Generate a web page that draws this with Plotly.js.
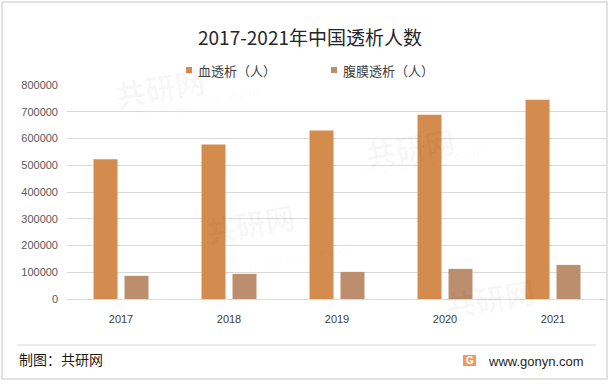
<!DOCTYPE html>
<html>
<head>
<meta charset="utf-8">
<script src="https://cdn.plot.ly/plotly-3.0.1.min.js"></script>
<style>html,body{margin:0;padding:0;background:#fff;}#chart{width:612px;height:384px;}</style>
</head>
<body>
<div id="chart"></div>
<script>
const years = ['2017', '2018', '2019', '2020', '2021'];
const hemodialysis = [522000, 578000, 630000, 689000, 745000];
const peritoneal = [86600, 94000, 101500, 112600, 127500];
const seriesNames = ['血透析（人）', '腹膜透析（人）'];
const yTicks = [0, 100000, 200000, 300000, 400000, 500000, 600000, 700000, 800000];

const W = 612, H = 384;
const L = 67, R = 607, T = 85, B = 299;
const px = x => (x - L) / (R - L);
const py = y => (B - y) / (B - T);

const cHemo = '#D48C4E';
const cPeri = '#BC8E6D';
const font = '"Noto Sans CJK SC", "Noto Sans", sans-serif';

const traces = [
  {type: 'bar', x: years, y: hemodialysis, name: seriesNames[0], marker: {color: cHemo}, hoverinfo: 'x+y'},
  {type: 'bar', x: years, y: peritoneal, name: seriesNames[1], marker: {color: cPeri}, hoverinfo: 'x+y'}
];

const shapes = [
  {type: 'rect', xref: 'paper', yref: 'paper', x0: px(2), x1: px(607), y0: py(379), y1: py(2),
   line: {color: '#d9d9d9', width: 1.5}, fillcolor: 'rgba(0,0,0,0)', layer: 'below'},
  {type: 'line', xref: 'paper', yref: 'paper', x0: px(17), x1: px(596), y0: py(345), y1: py(345),
   line: {color: '#d9d9d9', width: 1}},
  {type: 'rect', xref: 'paper', yref: 'paper', x0: px(186), x1: px(192), y0: py(73), y1: py(67),
   line: {width: 0}, fillcolor: cHemo},
  {type: 'rect', xref: 'paper', yref: 'paper', x0: px(331), x1: px(337), y0: py(73), y1: py(67),
   line: {width: 0}, fillcolor: cPeri},
  {type: 'rect', xref: 'paper', yref: 'paper', x0: px(463), x1: px(476), y0: py(366), y1: py(355),
   line: {width: 0}, fillcolor: '#F39A5A'}
];

const wm = (x, y, text, size) => ({xref: 'paper', yref: 'paper', x: px(x), y: py(y), text: text, showarrow: false,
  textangle: -10, font: {family: font, size: size, color: 'rgba(0,0,0,0.035)'}});

const annotations = [
  wm(110, 55, '<b>共研网</b>', 30), wm(130, 80, 'w w w . g o n y n . c o m', 12),
  wm(410, 115, '<b>共研网</b>', 30), wm(420, 140, 'w w w . g o n y n . c o m', 12),
  wm(200, 255, '<b>共研网</b>', 30), wm(220, 280, 'w w w . g o n y n . c o m', 12),
  wm(540, 330, '<b>共研网</b>', 30),
  {xref: 'paper', yref: 'paper', x: px(196), y: py(70), xanchor: 'left', yanchor: 'middle', text: seriesNames[0],
   showarrow: false, font: {family: font, size: 13, color: '#404040'}},
  {xref: 'paper', yref: 'paper', x: px(341), y: py(70), xanchor: 'left', yanchor: 'middle', text: seriesNames[1],
   showarrow: false, font: {family: font, size: 13, color: '#404040'}},
  {xref: 'paper', yref: 'paper', x: px(17), y: py(359), xanchor: 'left', yanchor: 'middle', text: '制图：共研网',
   showarrow: false, font: {family: font, size: 14, color: '#1a1a1a'}},
  {xref: 'paper', yref: 'paper', x: px(486), y: py(361), xanchor: 'left', yanchor: 'middle', text: 'www.gonyn.com',
   showarrow: false, font: {family: '"Liberation Sans", sans-serif', size: 13, color: '#262626'}},
  {xref: 'paper', yref: 'paper', x: px(469.5), y: py(360.5), xanchor: 'center', yanchor: 'middle', text: '<b>G</b>',
   showarrow: false, font: {family: '"Liberation Sans", sans-serif', size: 10, color: '#ffffff'}}
];

const layout = {
  width: W, height: H,
  margin: {l: L, r: W - R, t: T, b: H - B, pad: 0},
  paper_bgcolor: '#ffffff', plot_bgcolor: '#ffffff',
  showlegend: false,
  barmode: 'group', bargap: 0.426, bargroupgap: 0.226,
  title: {text: '2017-2021年中国透析人数', x: 310 / W, xanchor: 'center', y: 1 - 38 / H, yanchor: 'middle',
    font: {family: font, size: 19, color: '#262626'}},
  xaxis: {type: 'category', showgrid: false, zeroline: false, showline: false, ticks: '',
    tickfont: {family: '"Liberation Sans", sans-serif', size: 11, color: '#404040'}, ticklabelstandoff: 12},
  yaxis: {range: [0, 800000], tickvals: yTicks, ticktext: yTicks.map(String), showgrid: true, gridcolor: '#d9d9d9',
    gridwidth: 1, zeroline: true, zerolinecolor: '#d9d9d9', zerolinewidth: 1, showline: false, ticks: '',
    tickfont: {family: '"Liberation Sans", sans-serif', size: 11, color: '#595959'}, ticklabelstandoff: 8},
  shapes: shapes,
  annotations: annotations
};

Plotly.newPlot('chart', traces, layout, {displayModeBar: false, staticPlot: true});
</script>
</body>
</html>
